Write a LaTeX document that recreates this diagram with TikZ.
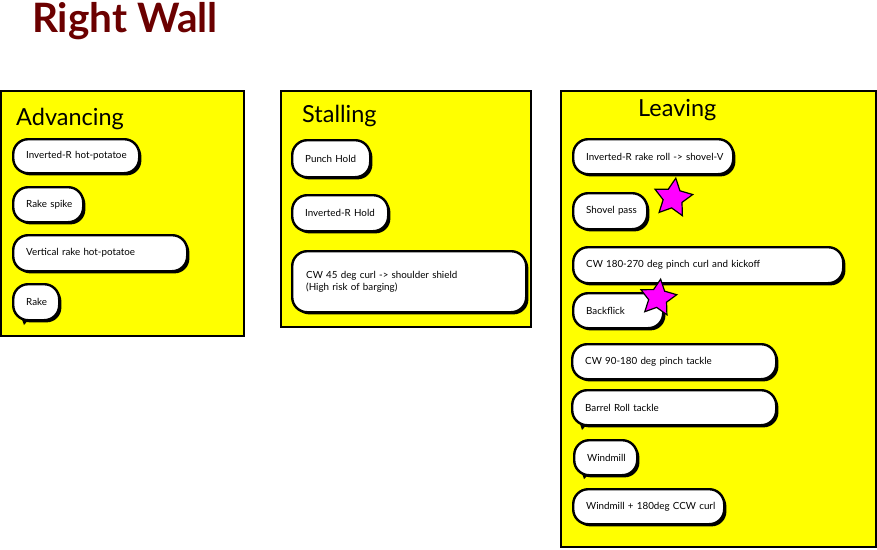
\documentclass[tikz,border=0pt]{standalone}
\usepackage{fontspec}
\setmainfont{Lato}
\usetikzlibrary{shapes.geometric,shadows}
\definecolor{titlered}{HTML}{6B0000}
\definecolor{padyellow}{HTML}{FFFF00}
\definecolor{starmag}{HTML}{FF00FF}
\tikzset{
  panel/.style={draw=black, line width=1.6pt, fill=padyellow},
  paneltitle/.style={anchor=west, inner sep=0pt, font=\fontsize{23.5}{28}\selectfont},
  bubble/.style={draw=black, line width=2.4pt, fill=white, rounded corners=15pt,
    anchor=north west, inner xsep=13pt, inner ysep=2pt, align=left,
    font=\fontsize{9.8}{12}\selectfont,
    drop shadow={shadow xshift=2.2pt, shadow yshift=-2.2pt, fill=black, opacity=1}},
  tail/.style={fill=black},
  starry/.style={star, star points=5, star point ratio=2.0, fill=starmag, draw=black,
    line width=1.2pt, inner sep=0pt}
}
\begin{document}
\begin{tikzpicture}[x=1pt,y=-1pt]
\useasboundingbox (0,0) rectangle (877,549);
% title
\node[anchor=west, inner sep=0pt, text=titlered, font=\fontsize{40.5}{44}\selectfont\bfseries] (title) at (32,21) {Right Wall};
% panels
\draw[panel] (1,91) rectangle (244,336);
\draw[panel] (281,91) rectangle (531,327);
\draw[panel] (561,91) rectangle (876,547);
\node[paneltitle] (tAdv) at (16,119) {Advancing};
\node[paneltitle] (tSta) at (302,116) {Stalling};
\node[paneltitle] (tLea) at (638,110) {Leaving};
% Advancing bubbles
\fill[tail] (20,314) -- (30,318) -- (24,325) -- cycle;
\node[bubble, minimum width=126pt, minimum height=34pt, text width=100pt] (a1) at (12,138) {\mbox{Inverted-R hot-potatoe}};
\node[bubble, minimum width=70pt, minimum height=35pt, text width=44pt] (a2) at (12,186) {\mbox{Rake spike}};
\node[bubble, minimum width=174pt, minimum height=36pt, text width=148pt] (a3) at (12,234) {\mbox{Vertical rake hot-potatoe}};
\node[bubble, minimum width=46pt, minimum height=36pt, text width=20pt] (a4) at (12,283) {\mbox{Rake}};
% Stalling bubbles
\node[bubble, minimum width=78pt, minimum height=37pt, text width=52pt] (s1) at (291,139) {\mbox{Punch Hold}};
\node[bubble, minimum width=96pt, minimum height=36pt, text width=70pt] (s2) at (291,194) {\mbox{Inverted-R Hold}};
\node[bubble, minimum width=234pt, minimum height=61pt, text width=206pt, inner xsep=14pt] (s3) at (291,250) {\mbox{CW 45 deg curl -> shoulder shield}\\\mbox{(High risk of barging)}};
% Leaving bubbles
\fill[tail] (578,418) -- (590,421) -- (582,430) -- cycle;
\fill[tail] (580,468) -- (592,471) -- (584,479) -- cycle;
\node[bubble, minimum width=160pt, minimum height=35pt, text width=134pt] (l1) at (572,138) {\mbox{Inverted-R rake roll -> shovel-V}};
\node[bubble, minimum width=74pt, minimum height=36pt, text width=48pt] (l2) at (572,192) {\mbox{Shovel pass}};
\node[bubble, minimum width=270pt, minimum height=36pt, text width=244pt] (l3) at (572,246) {\mbox{CW 180-270 deg pinch curl and kickoff}};
\node[bubble, minimum width=90pt, minimum height=35pt, text width=64pt] (l4) at (572,292) {\mbox{Backflick}};
\node[bubble, minimum width=204pt, minimum height=35pt, text width=178pt] (l5) at (571,343) {\mbox{CW 90-180 deg pinch tackle}};
\node[bubble, minimum width=204pt, minimum height=35pt, text width=178pt] (l6) at (571,389) {\mbox{Barrel Roll tackle}};
\node[bubble, minimum width=63pt, minimum height=35pt, text width=37pt] (l7) at (573,439) {\mbox{Windmill}};
\node[bubble, minimum width=151pt, minimum height=35pt, text width=125pt] (l8) at (572,488) {\mbox{Windmill + 180deg CCW curl}};
% stars
\node[starry, minimum size=40pt, rotate=-8] (star1) at (673,198) {};
\node[starry, minimum size=38pt, rotate=-8] (star2) at (658,298) {};
\end{tikzpicture}
\end{document}
